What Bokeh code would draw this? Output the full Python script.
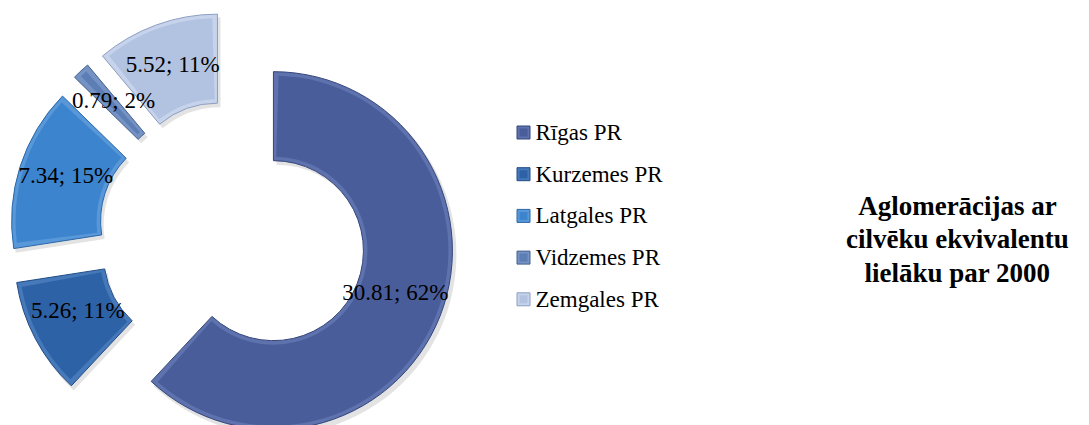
import math
from bokeh.plotting import figure
from bokeh.models import Range1d, ColumnDataSource
from bokeh.core.properties import value
from bokeh.embed import file_html
from bokeh.resources import INLINE

# ---------------- data ----------------
categories = ["Rīgas PR", "Kurzemes PR", "Latgales PR", "Vidzemes PR", "Zemgales PR"]
values = [30.81, 5.26, 7.34, 0.79, 5.52]
title_lines = ["Aglomerācijas ar", "cilvēku ekvivalentu", "lielāku par 2000"]

# ---------------- style ----------------
colors = ["#4A5D9B", "#2E62A7", "#3D84CE", "#5C7EB4", "#B2C2E1"]
edge_colors = ["#5E72AE", "#4679BA", "#5898D9", "#7592C4", "#C6D3EB"]
dark_colors = ["#34457A", "#204C86", "#2A67A8", "#45628F", "#8C9EC2"]
FONT = "Liberation Serif"
W, H = 1089, 425
cx, cy = 232, 191          # doughnut centre (data units == pixels, y measured from bottom)
r_out, r_in = 179, 90
explode = 44
bevel = 4

p = figure(width=W, height=H, output_backend="svg", toolbar_location=None,
           x_range=Range1d(0, W), y_range=Range1d(0, H),
           min_border=0, outline_line_color=None)
p.axis.visible = False
p.grid.visible = False
p.background_fill_color = "white"
p.border_fill_color = "white"

total = sum(values)
xs, ys, starts, ends, mids, labels = [], [], [], [], [], []
cum = 0.0
for v in values:
    a0 = math.pi / 2 - 2 * math.pi * cum / total
    cum += v
    a1 = math.pi / 2 - 2 * math.pi * cum / total
    m = (a0 + a1) / 2
    xs.append(cx + explode * math.cos(m))
    ys.append(cy + explode * math.sin(m))
    starts.append(a0)
    ends.append(a1)
    mids.append(m)
    labels.append(f"{v:.2f}; {round(100 * v / total)}%")

r_mid = (r_out + r_in) / 2
dang = bevel / r_mid
src = ColumnDataSource(dict(
    x=xs, y=ys, start=starts, end=ends, color=colors, edge=edge_colors, dark=dark_colors,
    istart=[s - dang for s in starts], iend=[e + dang for e in ends],
    sx=[x + 3 for x in xs], sy=[y - 4 for y in ys],
))

# shadow
p.annular_wedge(x="sx", y="sy", inner_radius=r_in, outer_radius=r_out + 1,
                start_angle="start", end_angle="end", direction="clock",
                source=src, fill_color="#808080", fill_alpha=0.22, line_color=None)
# bevel edge
p.annular_wedge(x="x", y="y", inner_radius=r_in, outer_radius=r_out,
                start_angle="start", end_angle="end", direction="clock",
                source=src, fill_color="edge", line_color="dark", line_width=1)
# face
p.annular_wedge(x="x", y="y", inner_radius=r_in + bevel, outer_radius=r_out - bevel,
                start_angle="istart", end_angle="iend", direction="clock",
                source=src, fill_color="color", line_color=None)

# data labels
lab_r = 131
lsrc = ColumnDataSource(dict(
    x=[x + lab_r * math.cos(m) for x, m in zip(xs, mids)],
    y=[y + lab_r * math.sin(m) + 6 for y, m in zip(ys, mids)],
    text=labels,
))
p.text(x="x", y="y", text="text", source=lsrc, text_font=value(FONT),
       text_font_size="23px", text_align="center", text_baseline="middle",
       text_color="black")

# legend (drawn manually)
leg_x, leg_y0, leg_step = 523, 425 - 132, 41.7
lg = ColumnDataSource(dict(
    x=[leg_x] * len(categories),
    tx=[leg_x + 12] * len(categories),
    y=[leg_y0 - i * leg_step for i in range(len(categories))],
    color=colors, edge=edge_colors, dark=dark_colors, text=categories,
))
p.rect(x="x", y="y", width=13, height=13, source=lg, fill_color="edge", line_color="dark")
p.rect(x="x", y="y", width=8, height=8, source=lg, fill_color="color", line_color=None)
p.text(x="tx", y="y", text="text", source=lg, text_font=value(FONT),
       text_font_size="23px", text_align="left", text_baseline="middle",
       text_color="black")

# title
tsrc = ColumnDataSource(dict(x=[957] * 3, y=[425 - 205 - i * 33.5 for i in range(3)],
                             text=title_lines))
p.text(x="x", y="y", text="text", source=tsrc, text_font=value(FONT),
       text_font_size="27px", text_font_style="bold", text_align="center",
       text_baseline="middle", text_color="black")

open("out.html", "w").write(file_html(p, INLINE))
